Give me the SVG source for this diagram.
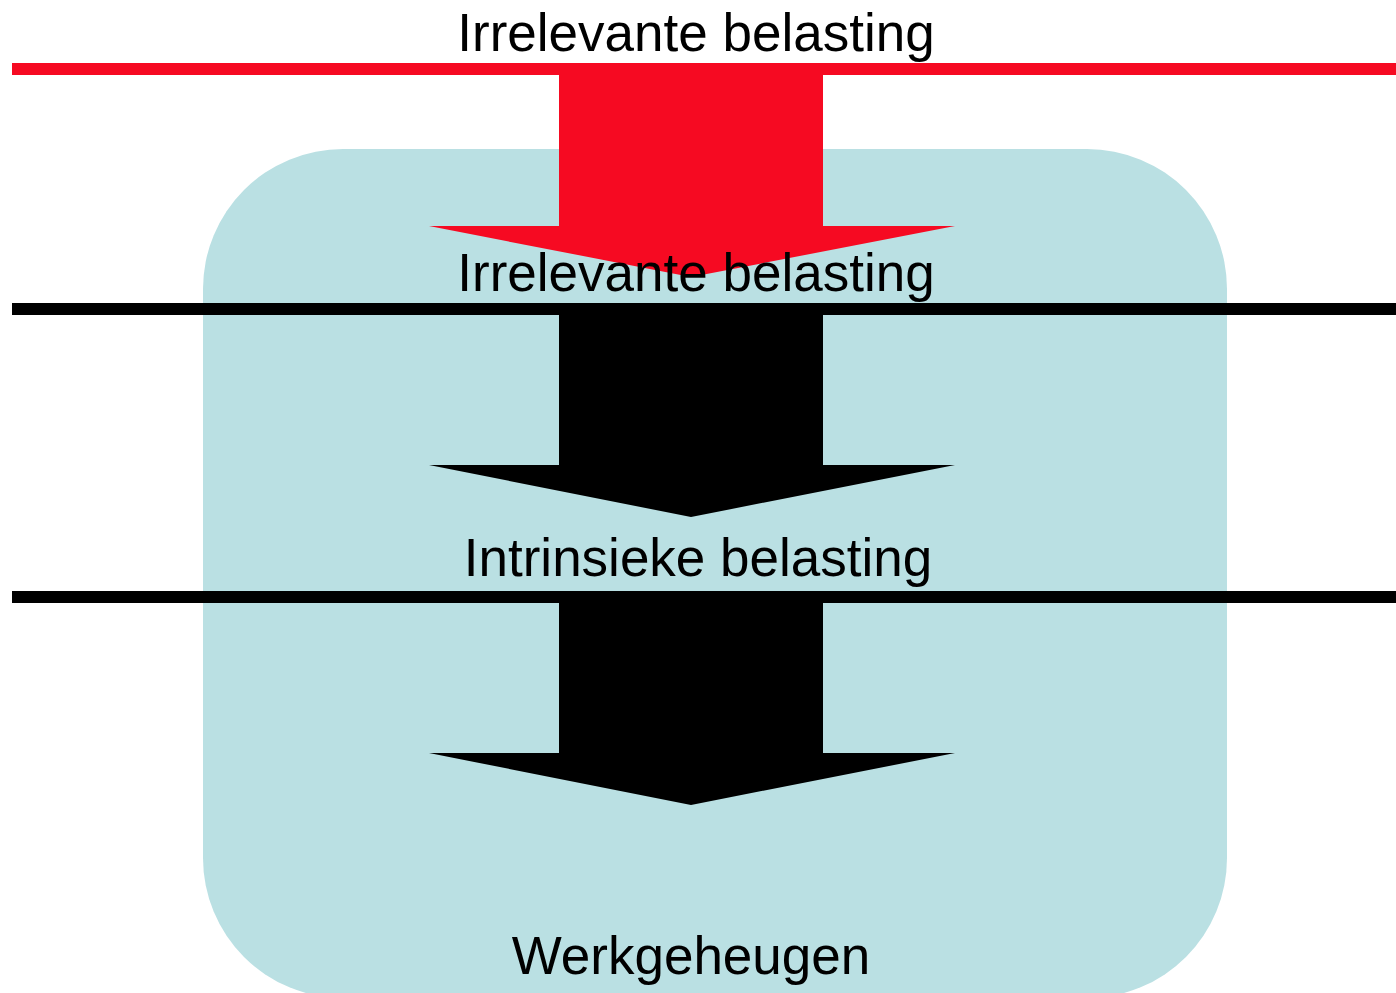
<svg xmlns="http://www.w3.org/2000/svg" width="1396" height="993" viewBox="0 0 1396 993">
<style>
.lbl{font-family:"Liberation Sans",Arial,sans-serif;font-size:53px;fill:#000;text-anchor:middle}
.red{fill:#f60a22}
.blk{fill:#000}
</style>
<rect width="1396" height="993" fill="#fff"/>
<g id="werkgeheugen">
<rect x="203" y="149" width="1024" height="849" rx="140" ry="140" fill="#bae0e3"/>
<text class="lbl" x="691" y="974">Werkgeheugen</text>
</g>
<g id="connectors">
<rect class="red" x="12" y="63" width="1384" height="12"/>
<polygon class="red" points="559,75 823,75 823,226 955,226 691,277 429,226 559,226"/>
<rect class="blk" x="12" y="303" width="1384" height="12"/>
<polygon class="blk" points="559,315 823,315 823,465 955,465 691,517 429,465 559,465"/>
<rect class="blk" x="12" y="591" width="1384" height="12"/>
<polygon class="blk" points="559,603 823,603 823,753 955,753 691,805 429,753 559,753"/>
</g>
<g id="irrelevant-top">
<text class="lbl" x="696" y="51">Irrelevante belasting</text>
</g>
<g id="irrelevant-mid">
<text class="lbl" x="696" y="291">Irrelevante belasting</text>
</g>
<g id="intrinsiek">
<text class="lbl" x="698" y="576">Intrinsieke belasting</text>
</g>
</svg>
